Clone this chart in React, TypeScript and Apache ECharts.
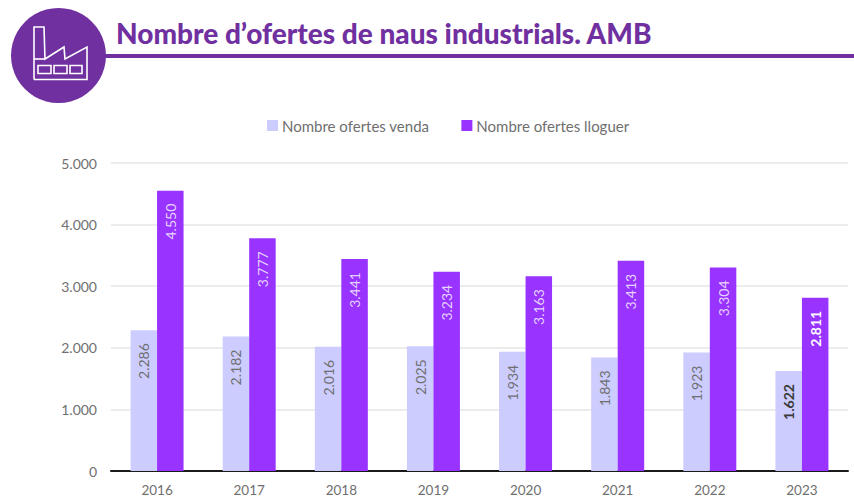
import React, { useEffect, useRef } from "react";
import * as echarts from "echarts";

const years = ["2016", "2017", "2018", "2019", "2020", "2021", "2022", "2023"];
const venda = [2286, 2182, 2016, 2025, 1934, 1843, 1923, 1622];
const lloguer = [4550, 3777, 3441, 3234, 3163, 3413, 3304, 2811];
const titleText = "Nombre d’ofertes de naus industrials. AMB";
const FONT = "Lato, 'Noto Sans', sans-serif";
const fmt = (v: number) => {
  const s = String(Math.round(v));
  return s.length > 3 ? s.slice(0, s.length - 3) + "." + s.slice(-3) : s;
};

const label = (color: string) => ({
  show: true,
  position: "insideTop",
  distance: 13,
  rotate: 90,
  align: "right",
  verticalAlign: "middle",
  fontFamily: FONT,
  fontSize: 14,
  color,
  formatter: (p: any) => fmt(p.value),
});

const iconStyle = { stroke: "#fff", fill: "none", lineWidth: 1.6 };

export default function App() {
  const ref = useRef<HTMLDivElement>(null);
  useEffect(() => {
    document.body.style.margin = "0";
    const chart = echarts.init(ref.current!, null, { renderer: "svg" });
    chart.setOption({
      animation: false,
      backgroundColor: "#fff",
      textStyle: { fontFamily: FONT },
      legend: {
        top: 113,
        left: 262,
        itemWidth: 11,
        itemHeight: 11,
        itemGap: 32,
        icon: "rect",
        textStyle: { color: "#6f6f6f", fontSize: 15, fontFamily: FONT, padding: [0, 0, 0, -1] },
      },
      grid: { left: 111, right: 6, top: 163, bottom: 25.5 },
      xAxis: {
        type: "category",
        data: years,
        axisLine: { lineStyle: { color: "#1a1a1a", width: 2 } },
        axisTick: { show: false },
        axisLabel: { color: "#6f6f6f", fontSize: 13.5, margin: 12, fontFamily: FONT },
      },
      yAxis: {
        type: "value",
        min: 0,
        max: 5000,
        interval: 1000,
        axisLine: { show: false },
        axisTick: { show: false },
        splitLine: { lineStyle: { color: "#e6e6e6", width: 1.5 } },
        axisLabel: { color: "#6f6f6f", fontSize: 14, margin: 14, formatter: fmt, fontFamily: FONT },
      },
      series: [
        {
          name: "Nombre ofertes venda",
          type: "bar",
          data: venda.map((value, i) =>
            i === venda.length - 1
              ? { value, label: { fontWeight: "bold", color: "#3a3a3a" } }
              : value
          ),
          barWidth: 26.5,
          barGap: "0%",
          itemStyle: { color: "#ccccff" },
          label: label("#6f6f6f"),
        },
        {
          name: "Nombre ofertes lloguer",
          type: "bar",
          data: lloguer.map((value, i) =>
            i === lloguer.length - 1 ? { value, label: { fontWeight: "bold", color: "#fff" } } : value
          ),
          barWidth: 26.5,
          itemStyle: { color: "#9933ff" },
          label: label("#e6d2ff"),
        },
      ],
      graphic: [
        { type: "rect", shape: { x: 100, y: 54, width: 754, height: 4 }, style: { fill: "#7030a0" } },
        { type: "circle", shape: { cx: 58.5, cy: 55.5, r: 47.5 }, style: { fill: "#7030a0" } },
        {
          type: "text",
          x: 116,
          y: 33,
          style: {
            text: titleText,
            fill: "#7030a0",
            font: `900 28px ${FONT}`,
            textVerticalAlign: "middle",
            verticalAlign: "middle",
          },
        },
        {
          type: "polyline",
          shape: {
            points: [
              [34, 79.5],
              [34, 27],
              [44, 27],
              [45, 59],
              [64, 47],
              [65, 59],
              [87, 47],
              [87, 79.5],
              [34, 79.5],
            ],
          },
          style: iconStyle,
        },
        { type: "line", shape: { x1: 34, y1: 59, x2: 45, y2: 59 }, style: iconStyle },
        { type: "rect", shape: { x: 38, y: 65.5, width: 13, height: 8 }, style: iconStyle },
        { type: "rect", shape: { x: 54, y: 65.5, width: 13, height: 8 }, style: iconStyle },
        { type: "rect", shape: { x: 70, y: 65.5, width: 12, height: 8 }, style: iconStyle },
      ],
    });
    return () => chart.dispose();
  }, []);
  return <div ref={ref} style={{ width: 854, height: 497 }} />;
}
